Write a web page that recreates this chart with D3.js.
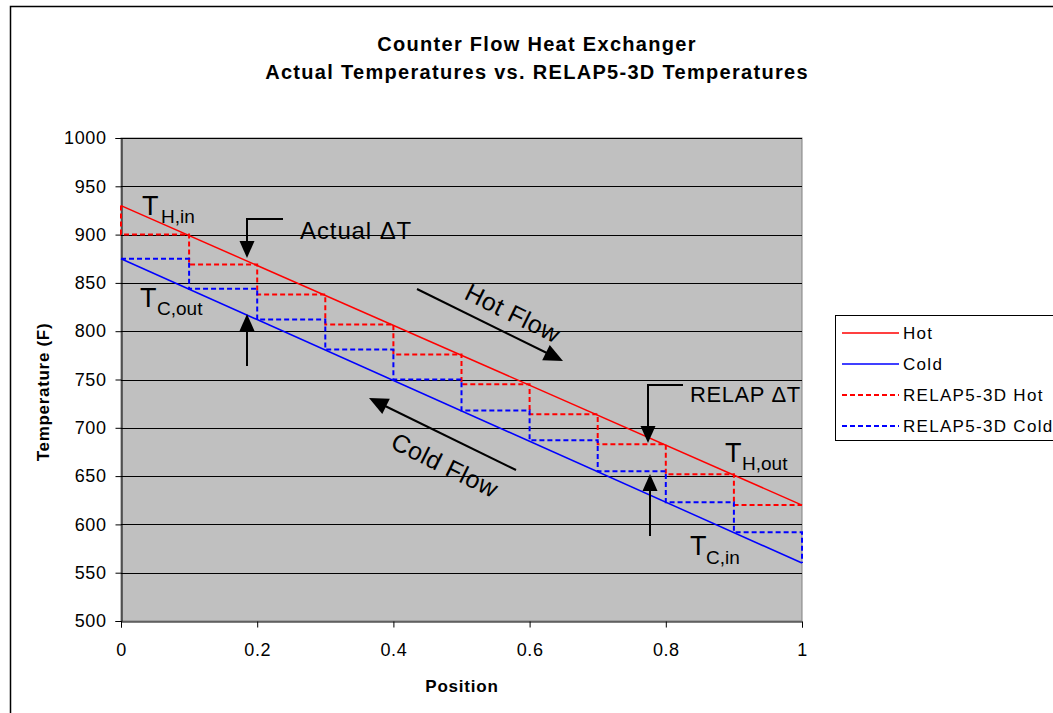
<!DOCTYPE html>
<html><head><meta charset="utf-8">
<script src="https://cdn.jsdelivr.net/npm/d3@7"></script>
<style>
html,body{margin:0;padding:0;background:#fff;}
svg{display:block;font-family:"Liberation Sans",Arial,sans-serif;}
</style></head>
<body>
<svg id="c" width="1053" height="713"></svg>
<script>
// ---- data ----
const titleLines = ["Counter Flow Heat Exchanger", "Actual Temperatures vs. RELAP5-3D Temperatures"];
const xTicks = [0, 0.2, 0.4, 0.6, 0.8, 1];
const xTickLabels = ["0", "0.2", "0.4", "0.6", "0.8", "1"];
const yTicks = [500, 550, 600, 650, 700, 750, 800, 850, 900, 950, 1000];
const actualPos = [0, 1];
const hotActual = [930, 620];
const coldActual = [875, 560];
// RELAP5-3D node values (10 nodes)
const relapPos = [0, 0.1, 0.2, 0.3, 0.4, 0.5, 0.6, 0.7, 0.8, 0.9, 1];
const relapHot = [900, 869, 838, 807, 776, 745, 714, 683, 652, 620];
const relapHotInlet = 930;
const relapCold = [875, 844, 812, 781, 750, 718, 687, 655, 623, 592];
const relapColdInlet = 560;
const legendLabels = ["Hot", "Cold", "RELAP5-3D Hot", "RELAP5-3D Cold"];

// ---- layout ----
const svg = d3.select("#c");
const L = 121, R = 802, T = 138, B = 621;
const x = d3.scaleLinear().domain([0, 1]).range([L, R]);
const y = d3.scaleLinear().domain([500, 1000]).range([B, T]);

// outer chart border
svg.append("rect").attr("x", 10.5).attr("y", 6.5).attr("width", 1100).attr("height", 800)
  .attr("fill", "none").attr("stroke", "#000").attr("stroke-width", 1.5);

// plot background
svg.append("rect").attr("x", L).attr("y", T).attr("width", R - L).attr("height", B - T)
  .attr("fill", "#c0c0c0").attr("stroke", "#808080").attr("stroke-width", 1);

// gridlines
svg.append("g").selectAll("line").data(yTicks.filter(d => d > 500)).join("line")
  .attr("x1", L).attr("x2", R)
  .attr("y1", d => Math.round(y(d)) + 0.5).attr("y2", d => Math.round(y(d)) + 0.5)
  .attr("stroke", "#000").attr("stroke-width", 1);

// axes
const yAxis = svg.append("g").attr("transform", `translate(${L + 0.5},0)`)
  .call(d3.axisLeft(y).tickValues(yTicks).tickSize(6).tickPadding(9).tickFormat(d3.format("d")));
const xAxis = svg.append("g").attr("transform", `translate(0,${B + 0.5})`)
  .call(d3.axisBottom(x).tickValues(xTicks).tickSize(6).tickPadding(16).tickFormat((d, i) => xTickLabels[i]));
[yAxis, xAxis].forEach(a => {
  a.select(".domain").attr("stroke", "#000").attr("stroke-width", 1);
  a.selectAll(".tick line").attr("stroke", "#000");
  a.selectAll("text").attr("font-size", 18).attr("fill", "#000").attr("letter-spacing", 0.6)
    .attr("font-family", "Liberation Sans, Arial, sans-serif");
});

// clip
svg.append("clipPath").attr("id", "pc").append("rect")
  .attr("x", L - 2).attr("y", T - 2).attr("width", R - L + 4).attr("height", B - T + 4);
const plot = svg.append("g").attr("clip-path", "url(#pc)");

const line = d3.line().x(d => x(d[0])).y(d => y(d[1]));
const stepLine = d3.line().x(d => x(d[0])).y(d => y(d[1])).curve(d3.curveStepAfter);

// actual lines
plot.append("path").attr("d", line(actualPos.map((p, i) => [p, hotActual[i]])))
  .attr("fill", "none").attr("stroke", "#ff0000").attr("stroke-width", 1.5);
plot.append("path").attr("d", line(actualPos.map((p, i) => [p, coldActual[i]])))
  .attr("fill", "none").attr("stroke", "#0000ff").attr("stroke-width", 1.5);

// RELAP step lines
const hotPts = [[0, relapHotInlet]].concat(relapHot.map((v, i) => [relapPos[i], v]));
hotPts.push([relapPos[10], relapHot[9]]);
plot.append("path").attr("d", stepLine(hotPts))
  .attr("fill", "none").attr("stroke", "#ff0000").attr("stroke-width", 2).attr("stroke-dasharray", "5,3");
const coldPts = relapCold.map((v, i) => [relapPos[i], v]);
coldPts.push([relapPos[10], relapColdInlet]);
plot.append("path").attr("d", stepLine(coldPts))
  .attr("fill", "none").attr("stroke", "#0000ff").attr("stroke-width", 2).attr("stroke-dasharray", "5,3");

// title
svg.append("g").selectAll("text").data(titleLines).join("text")
  .attr("x", 537).attr("y", (d, i) => 51 + i * 28)
  .attr("text-anchor", "middle").attr("font-weight", "bold").attr("font-size", 20)
  .attr("letter-spacing", 1.3).text(d => d);

// axis titles
svg.append("text").attr("x", 462).attr("y", 692).attr("text-anchor", "middle")
  .attr("font-weight", "bold").attr("font-size", 17).attr("letter-spacing", 0.8).text("Position");
svg.append("text").attr("transform", "translate(49,392) rotate(-90)").attr("text-anchor", "middle")
  .attr("font-weight", "bold").attr("font-size", 17).attr("letter-spacing", 0.7).text("Temperature (F)");

// legend
const lg = svg.append("g");
lg.append("rect").attr("x", 835.5).attr("y", 315.5).attr("width", 300).attr("height", 125)
  .attr("fill", "#fff").attr("stroke", "#000").attr("stroke-width", 1);
const lgColors = ["#ff0000", "#0000ff", "#ff0000", "#0000ff"];
const lgDash = [null, null, "5,3", "5,3"];
legendLabels.forEach((t, i) => {
  const yy = 333 + i * 31;
  lg.append("line").attr("x1", 842).attr("x2", 899).attr("y1", yy).attr("y2", yy)
    .attr("stroke", lgColors[i]).attr("stroke-width", lgDash[i] ? 2 : 1.5)
    .attr("stroke-dasharray", lgDash[i]);
  lg.append("text").attr("x", 903).attr("y", yy + 6).attr("font-size", 17)
    .attr("letter-spacing", 1.3).text(t);
});

// annotations
const ann = svg.append("g").attr("fill", "#000");
function sublabel(xx, yy, main, sub, subX, subY) {
  ann.append("text").attr("x", xx).attr("y", yy).attr("font-size", 27).text(main);
  ann.append("text").attr("x", subX).attr("y", subY).attr("font-size", 19).text(sub);
}
sublabel(142, 215, "T", "H,in", 161, 223);
sublabel(140, 307, "T", "C,out", 157, 315);
sublabel(725, 462, "T", "H,out", 742, 470);
sublabel(690, 555, "T", "C,in", 706, 564);

ann.append("text").attr("x", 300).attr("y", 239).attr("font-size", 24).attr("letter-spacing", 0.9).text("Actual \u0394T");
ann.append("text").attr("x", 690).attr("y", 402).attr("font-size", 22).attr("letter-spacing", 0.6).text("RELAP \u0394T");

function arrowHead(tipX, tipY, angleDeg, len, halfW) {
  const a = angleDeg * Math.PI / 180;
  const bx = tipX - Math.cos(a) * len, by = tipY - Math.sin(a) * len;
  const nx = -Math.sin(a) * halfW, ny = Math.cos(a) * halfW;
  ann.append("path").attr("d", `M${tipX},${tipY}L${bx + nx},${by + ny}L${bx - nx},${by - ny}Z`);
}
function poly(pts) {
  ann.append("path").attr("d", d3.line()(pts)).attr("fill", "none").attr("stroke", "#000").attr("stroke-width", 2);
}
// Actual dT bracket arrow
poly([[283, 219], [247, 219], [247, 246]]);
arrowHead(247, 258, 90, 17, 7.5);
// Actual dT up arrow
poly([[247, 366], [247, 325]]);
arrowHead(247, 314, -90, 17, 7.5);
// RELAP dT bracket arrow
poly([[683, 385], [648, 385], [648, 432]]);
arrowHead(648, 443, 90, 17, 7.5);
// RELAP dT up arrow
poly([[650, 536], [650, 484]]);
arrowHead(650, 474, -90, 17, 7.5);

// flow arrows
const ang = Math.atan2(72, 146) * 180 / Math.PI;
poly([[417, 289], [553, 356]]);
arrowHead(563, 361, ang, 19, 8.5);
poly([[516, 470], [379, 403]]);
arrowHead(369, 398, ang + 180, 19, 8.5);
ann.append("text").attr("transform", `translate(509,321) rotate(${ang})`).attr("text-anchor", "middle")
  .attr("font-size", 25).attr("letter-spacing", 0.5).text("Hot Flow");
ann.append("text").attr("transform", `translate(441,473) rotate(${ang})`).attr("text-anchor", "middle")
  .attr("font-size", 25).attr("letter-spacing", 0.5).text("Cold Flow");
</script>
</body></html>
